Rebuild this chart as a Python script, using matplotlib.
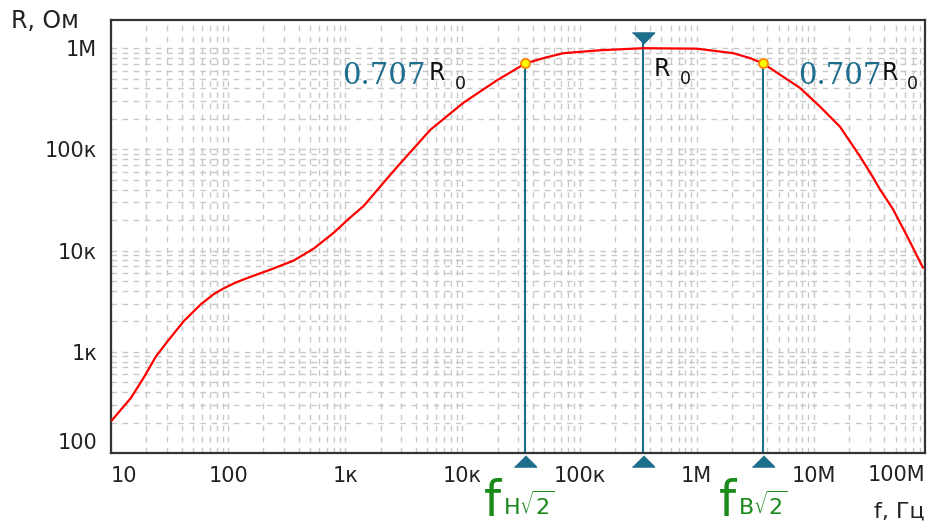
import matplotlib
matplotlib.use("Agg")
import matplotlib.pyplot as plt
from matplotlib.ticker import LogLocator, NullFormatter

plt.rcParams['font.family'] = ['DejaVu Sans']

# frequency response (Hz, Ohm)
freq = [10.2, 14.8, 19.1, 24.2, 30.6, 41.9, 58.5, 75.5, 91.8, 112, 136, 245,
        363, 538, 796, 1070, 1435, 2800, 5350, 10200, 19900, 34500, 51e3,
        72800, 150e3, 350e3, 1.0e6, 2.05e6, 2.86e6, 3.69e6, 7.62e6, 11.3e6,
        16.7e6, 24.8e6, 32e6, 36.6e6, 47.3e6, 62.4e6, 85.3e6]
resist = [211, 350, 560, 900, 1282, 2014, 2950, 3720, 4240, 4740, 5200, 6670,
          7980, 10470, 15000, 20600, 27600, 68100, 157e3, 289e3, 485e3, 707e3,
          807e3, 893e3, 955e3, 1.0e6, 0.99e6, 0.893e6, 0.798e6, 707e3, 405e3,
          265e3, 168e3, 85.3e3, 53e3, 40.5e3, 25.8e3, 14.0e3, 6.81e3]

R0 = 1.0e6
f_low = 34.5e3
f_mid = 350e3
f_high = 3.69e6

xticks = [10, 100, 1e3, 1e4, 1e5, 1e6, 1e7]
xlabels = ['10', '100', '1к', '10к', '100к', '1M', '10M']
yticks = [100, 1e3, 1e4, 1e5, 1e6]
ylabels = ['100', '1к', '10к', '100к', '1M']

W, H = 929, 526
fig = plt.figure(figsize=(W / 100, H / 100), dpi=100)
ax = fig.add_axes([111 / W, 1 - 453 / H, (925 - 111) / W, (453 - 20) / H])

ax.set_xscale('log')
ax.set_yscale('log')
ax.set_xlim(10, 8.9e7)
ax.set_ylim(103, 1.9e6)

# dashed grey grid on every decade and sub-decade
ax.xaxis.set_minor_locator(LogLocator(base=10, subs=range(2, 10), numticks=20))
ax.yaxis.set_minor_locator(LogLocator(base=10, subs=range(2, 10), numticks=20))
ax.xaxis.set_minor_formatter(NullFormatter())
ax.yaxis.set_minor_formatter(NullFormatter())
ax.grid(True, which='both', color='#c8c8c8', linestyle=(0, (4, 4)), linewidth=1.0)
ax.set_axisbelow(True)

ax.set_xticks(xticks)
ax.set_xticklabels(xlabels)
ax.set_yticks(yticks)
ax.set_yticklabels(ylabels)
ax.tick_params(which='both', length=0, labelsize=15, colors='#222222')
ax.tick_params(axis='x', pad=9)
ax.tick_params(axis='y', pad=10)
ax.get_xticklabels()[0].set_ha('left')
ax.get_yticklabels()[0].set_va('bottom')

for s in ax.spines.values():
    s.set_color('#333333')
    s.set_linewidth(1.6)

ax.text(1.0, -0.028, '100M', transform=ax.transAxes, ha='right', va='top',
        fontsize=15, color='#222222')

# curve
ax.plot(freq, resist, color='#ff0000', linewidth=1.6, zorder=3)

blue = '#1d6e8c'
xt = ax.get_xaxis_transform()
ax.vlines([f_low, f_high], 103, 0.707 * R0, color=blue, linewidth=1.5, zorder=2)
ax.plot([f_mid, f_mid], [0, 0.958], transform=xt, color=blue, linewidth=1.5, zorder=2)

up = [(-1, -0.5), (1, -0.5), (0, 0.5)]
down = [(-1, 0.5), (1, 0.5), (0, -0.5)]
for f in [f_low, f_mid, f_high]:
    ax.plot([f], [-0.018], transform=xt, marker=up, markersize=16, color=blue,
            clip_on=False, zorder=5)
ax.plot([f_mid], [0.958], transform=xt, marker=down, markersize=16, color=blue,
        clip_on=False, zorder=5)

ax.plot([f_low, f_high], [0.707 * R0, 0.707 * R0], linestyle='none', marker='o',
        markersize=6.5, markerfacecolor='#ffff00', markeredgecolor='#ff8800',
        markeredgewidth=1.3, zorder=6)


def px(x, y):
    return x / W, 1 - y / H


# annotations
for x0, xr, xs in [(342, 429, 455), (798, 882, 907)]:
    fig.text(*px(x0, 84), '0.707', fontsize=21, color=blue, family='DejaVu Serif',
             va='baseline', ha='left')
    fig.text(*px(xr, 80), 'R', fontsize=17, color='#111111', va='baseline', ha='left')
    fig.text(*px(xs, 89), '0', fontsize=12.5, color='#111111', va='baseline', ha='left')

fig.text(*px(654, 76), 'R', fontsize=17, color='#111111', va='baseline', ha='left')
fig.text(*px(680, 84), '0', fontsize=12.5, color='#111111', va='baseline', ha='left')

green = '#1b8a1b'
for x0, sub in [(484, 'Н'), (719, 'В')]:
    fig.text(*px(x0, 525.5), 'f', fontsize=35, color=green, va='bottom', ha='left')
    fig.text(*px(x0 + 19, 515), sub + r'$\sqrt{2}$', fontsize=16, color=green,
             va='baseline', ha='left')

fig.text(*px(11, 9), 'R, Ом', fontsize=17, color='#222222', va='top', ha='left')
fig.text(*px(925, 518), 'f, Гц', fontsize=16, color='#222222', va='baseline', ha='right')

fig.savefig('out.png', dpi=100)
